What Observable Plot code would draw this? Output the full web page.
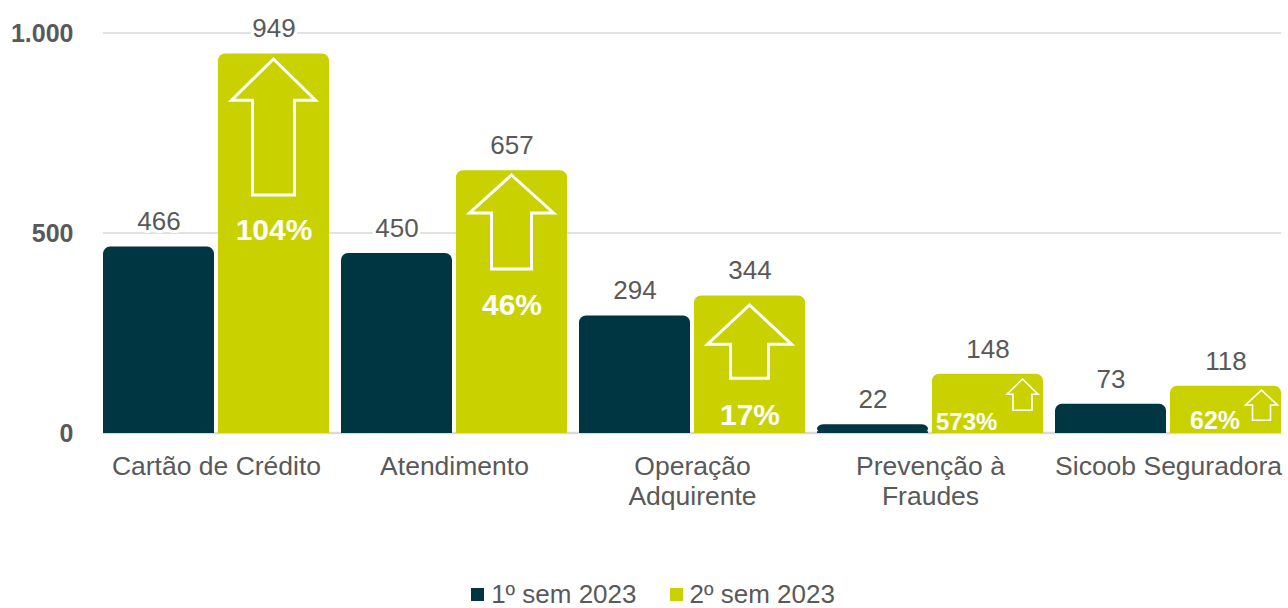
<!DOCTYPE html>
<html><head><meta charset="utf-8">
<script src="https://cdn.jsdelivr.net/npm/d3@7"></script>
<script src="https://cdn.jsdelivr.net/npm/@observablehq/plot@0.6"></script>
<style>
body{margin:0;background:#fff;font-family:"Liberation Sans",Arial,sans-serif;}
#chart svg{overflow:visible;font-family:"Liberation Sans",Arial,sans-serif;}
#legend{display:flex;justify-content:center;align-items:center;margin-top:34px;height:20px;line-height:20px;font-size:26px;color:#595959;padding-left:18px;}
.item{display:flex;align-items:center;}
.item + .item{margin-left:33px;}
.sw{width:13px;height:13px;margin-right:7px;}
</style></head><body>
<div id="chart"></div>
<div id="legend"></div>
<script>
// ---- data ----
const categories = ["Cartão de Crédito","Atendimento","Operação Adquirente","Prevenção à Fraudes","Sicoob Seguradora"];
const categoryLabels = ["Cartão de Crédito","Atendimento","Operação\nAdquirente","Prevenção à\nFraudes","Sicoob Seguradora"];
const series = ["1º sem 2023","2º sem 2023"];
const sem1 = [466,450,294,22,73];
const sem2 = [949,657,344,148,118];
const growth = ["104%","46%","17%","573%","62%"];
const yTicks = [0,500,1000];
const colors = ["#003641","#c9d200"];

// ---- annotation layout (styling) ----
const arrowLayout = [
  {tip:935, base:832, bottom:595, head:42, shaft:21, dx:0, sw:3, labelY:507, size:30, anchor:"middle", ldx:0},
  {tip:645, base:550, bottom:410, head:42, shaft:20, dx:0, sw:3, labelY:320, size:30, anchor:"middle", ldx:0},
  {tip:320, base:222, bottom:137, head:42, shaft:19, dx:0, sw:3, labelY:45, size:30, anchor:"middle", ldx:0},
  {tip:135, base:97, bottom:57, head:15.5, shaft:9.5, dx:35, sw:1.6, labelY:27, size:24, anchor:"start", ldx:-52},
  {tip:107, base:70, bottom:32, head:16, shaft:9, dx:36, sw:1.6, labelY:32, size:25, anchor:"start", ldx:-36}
];

const rows = [];
categories.forEach((c, i) => {
  rows.push({cat: c, series: series[0], value: sem1[i]});
  rows.push({cat: c, series: series[1], value: sem2[i]});
});
const annot = categories.map((c, i) => ({cat: c, series: series[1], value: sem2[i], pct: growth[i], ...arrowLayout[i]}));
const annotMid = annot.filter(d => d.anchor === "middle");
const annotStart = annot.filter(d => d.anchor === "start");

function drawArrows(index, scales, values) {
  const g = d3.create("svg:g").attr("fill", "none").attr("stroke", "white").attr("stroke-linejoin", "miter");
  const bw = scales.x && scales.x.bandwidth ? scales.x.bandwidth() : 0;
  for (const i of index) {
    const a = annot[i];
    const cx = scales.x(a.series) + bw / 2 + a.dx;
    const yt = scales.y(a.tip), yb = scales.y(a.base), yo = scales.y(a.bottom);
    const pts = [[cx, yt],[cx + a.head, yb],[cx + a.shaft, yb],[cx + a.shaft, yo],[cx - a.shaft, yo],[cx - a.shaft, yb],[cx - a.head, yb]];
    g.append("path").attr("d", "M" + pts.map(p => p.join(",")).join("L") + "Z").attr("stroke-width", a.sw);
  }
  return g.node();
}

function drawGrid(index, scales, values, dims) {
  const g = d3.create("svg:g");
  const x1 = dims.marginLeft, x2 = dims.width - dims.marginRight;
  for (const t of yTicks) {
    const y = scales.y(t);
    g.append("line").attr("x1", x1).attr("x2", x2).attr("y1", y).attr("y2", y)
      .attr("stroke", "#d9d9d9").attr("stroke-width", t === 0 ? 2.5 : 1.5);
  }
  return g.node();
}

const fmt = d => d3.format(",")(d).replace(/,/g, ".");
const grey = "#595959";

const chart = Plot.plot({
  width: 1288,
  height: 550,
  marginLeft: 96,
  marginRight: 0,
  marginTop: 33,
  marginBottom: 117,
  style: {fontFamily: '"Liberation Sans", Arial, sans-serif', background: "white"},
  fx: {domain: categories, paddingInner: 0.05, paddingOuter: 0.025, label: null},
  x: {domain: series, paddingInner: 0.035, paddingOuter: 0, axis: null},
  y: {domain: [0, 1000], axis: null},
  color: {domain: series, range: colors},
  marks: [
    Plot.frame({facet: "super", stroke: "none", render: drawGrid}),
    Plot.axisY({ticks: yTicks, tickSize: 0, tickPadding: 30, fontSize: 25, fontWeight: "bold", fill: grey, label: null, tickFormat: fmt}),
    Plot.axisFx({anchor: "bottom", tickSize: 0, tickPadding: 20, fontSize: 26.5, lineHeight: 1.13, fill: grey, label: null,
      tickFormat: d => categoryLabels[categories.indexOf(d)]}),
    Plot.barY(rows, {fx: "cat", x: "series", y: "value", fill: "series", rx: 7}),
    Plot.barY(rows, {fx: "cat", x: "series", y: "value", fill: "series", insetTop: 7}),
    Plot.barY(annot, {fx: "cat", x: "series", y: "value", render: drawArrows}),
    Plot.text(rows, {fx: "cat", x: "series", y: "value", text: d => String(d.value), dy: -25, fontSize: 26, fill: grey,
      stroke: "white", strokeWidth: 6, lineAnchor: "middle"}),
    Plot.text(annotMid, {fx: "cat", x: "series", y: "labelY", text: "pct", fontSize: 30,
      fontWeight: "bold", fill: "white", lineAnchor: "middle", textAnchor: "middle"}),
    ...annotStart.map(a => Plot.text([a], {fx: "cat", x: "series", y: "labelY", text: "pct", fontSize: a.size,
      fontWeight: "bold", fill: "white", lineAnchor: "middle", textAnchor: "start", dx: a.ldx}))
  ]
});
document.getElementById("chart").appendChild(chart);

const legend = document.getElementById("legend");
series.forEach((s, i) => {
  const it = document.createElement("div");
  it.className = "item";
  const sw = document.createElement("span");
  sw.className = "sw";
  sw.style.background = colors[i];
  const t = document.createElement("span");
  t.textContent = s;
  it.appendChild(sw); it.appendChild(t);
  legend.appendChild(it);
});
</script>
</body></html>
